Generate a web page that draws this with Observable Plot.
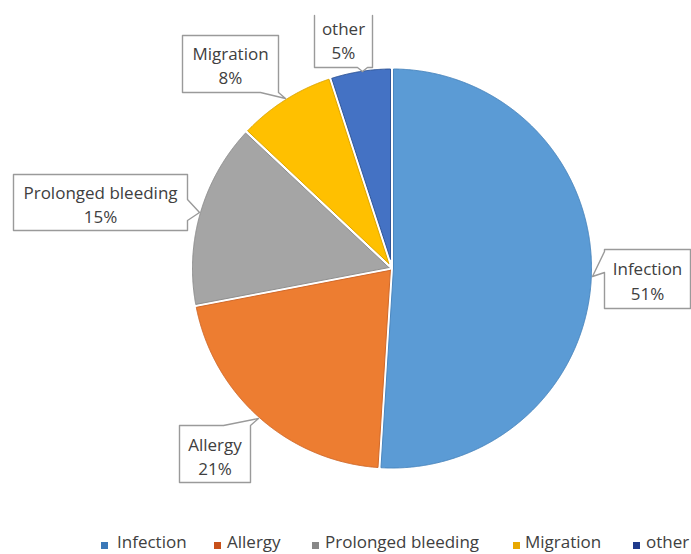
<!DOCTYPE html>
<html>
<head>
<meta charset="utf-8">
<script src="https://cdn.jsdelivr.net/npm/d3@7"></script>
<script src="https://cdn.jsdelivr.net/npm/@observablehq/plot@0.6"></script>
<style>
  html, body { margin: 0; padding: 0; background: #fff; overflow: hidden; }
  #chart { width: 691px; height: 554px; position: relative; }
  #chart svg { display: block; }
  .legend { position: relative; width: 691px; height: 24px; overflow: hidden;
            font-family: "Open Sans", sans-serif; font-size: 17px; color: #404040; }
  .legend .sw { position: absolute; top: 12px; width: 7px; height: 7px; }
  .legend .lb { position: absolute; top: 0px; line-height: 23px; white-space: nowrap; }
</style>
</head>
<body>
<div id="chart"></div>
<script>
// ---- data ----
const names = ["Infection", "Allergy", "Prolonged bleeding", "Migration", "other"];
const values = [51, 21, 15, 8, 5];
const labels = ["51%", "21%", "15%", "8%", "5%"];

// ---- styles ----
const sliceColors = ["#5B9BD5", "#ED7D31", "#A5A5A5", "#FFC000", "#4472C4"];
const edgeColors = ["#4A86BE", "#D0692A", "#8E8E8E", "#DDA600", "#2F5597"];
const legendColors = ["#3A78B8", "#C8501A", "#888888", "#E8A800", "#1F3A8C"];

// ---- layout (pixels) ----
const W = 691, H = 530;
const pieCenter = [391.5, 268], pieR = 199.5, gap = 1.5;
// callout boxes: [x1,y1,x2,y2], pointer side, pointer base, tip, text centre
const callouts = [
  {box: [604, 249, 690, 308], side: "left",   base: [251, 272], tip: [592, 276], text: [647, 279]},
  {box: [179, 425, 250, 482], side: "top",    base: [223, 250], tip: [258, 418], text: [214.5, 454.5]},
  {box: [13, 174, 187, 230],  side: "right",  base: [199, 220], tip: [199, 212], text: [100, 202.5]},
  {box: [182, 35, 278, 92],   side: "bottom", base: [260, 278], tip: [285, 98],  text: [230, 63.5]},
  {box: [314, 15, 372, 67],   side: "bottom", base: [357, 367], tip: [362, 71],  text: [343, 38.5], openTop: true}
];
const legendSwatchX = [101, 214, 312, 513, 633];
const legendTextX = [117, 227, 325, 525, 646];

// ---- pie geometry from data ----
const data = names.map((n, i) => ({name: n, value: values[i], label: labels[i]}));
const arcs = d3.pie().sort(null).value(d => d.value)(data);
const [cx, cy] = pieCenter;
const pt = (a, r) => ({x: cx + r * Math.sin(a), y: cy - r * Math.cos(a)});

const sliceMarks = arcs.map((a, i) => {
  const h = (a.endAngle - a.startAngle) / 2;
  const mid = (a.startAngle + a.endAngle) / 2;
  const apex = pt(mid, gap / Math.sin(Math.min(h, Math.PI / 2)));
  const a0 = a.startAngle + gap / pieR, a1 = a.endAngle - gap / pieR;
  const n = Math.max(8, Math.ceil((a1 - a0) / (Math.PI / 720)));
  const pts = [apex];
  for (let k = 0; k <= n; k++) pts.push(pt(a0 + (a1 - a0) * k / n, pieR));
  pts.push(apex);
  return Plot.line(pts, {x: "x", y: "y", fill: sliceColors[i], stroke: edgeColors[i],
    strokeWidth: 1, curve: "linear-closed"});
});

// ---- callout outlines ----
function calloutPoints(c) {
  const [x1, y1, x2, y2] = c.box, [tx, ty] = c.tip, [b0, b1] = c.base;
  const P = (x, y) => ({x, y});
  const top = c.side === "top" ? [P(b0, y1), P(tx, ty), P(b1, y1)] : [];
  const right = c.side === "right" ? [P(x2, b0), P(tx, ty), P(x2, b1)] : [];
  const bottom = c.side === "bottom" ? [P(b1, y2), P(tx, ty), P(b0, y2)] : [];
  const left = c.side === "left" ? [P(x1, b1), P(tx, ty), P(x1, b0)] : [];
  if (c.openTop) {
    return [P(x2, y1), ...right, P(x2, y2), ...bottom, P(x1, y2), ...left, P(x1, y1)];
  }
  return [P(x1, y1), ...top, P(x2, y1), ...right, P(x2, y2), ...bottom, P(x1, y2), ...left, P(x1, y1)];
}
const calloutMarks = callouts.map(c =>
  Plot.line(calloutPoints(c), {x: "x", y: "y", fill: "white", stroke: "#9a9a9a", strokeWidth: 1.4, curve: "linear"})
);

const textData = data.map((d, i) => ({text: d.name + "\n" + d.label, x: callouts[i].text[0], y: callouts[i].text[1]}));

const plot = Plot.plot({
  width: W, height: H,
  marginTop: 0, marginRight: 0, marginBottom: 0, marginLeft: 0,
  x: {domain: [0, W], range: [0, W], axis: null},
  y: {domain: [0, H], range: [0, H], axis: null},
  style: {background: "white", fontFamily: "Open Sans, sans-serif"},
  marks: [
    ...sliceMarks,
    ...calloutMarks,
    Plot.text(textData, {x: "x", y: "y", text: "text", fontSize: 17, lineHeight: 1.44,
      lineAnchor: "middle", textAnchor: "middle", fill: "#404040"})
  ]
});

const chart = document.getElementById("chart");
chart.appendChild(plot);

// ---- legend ----
const legend = document.createElement("div");
legend.className = "legend";
names.forEach((n, i) => {
  const sw = document.createElement("span");
  sw.className = "sw";
  sw.style.left = legendSwatchX[i] + "px";
  sw.style.background = legendColors[i];
  const lb = document.createElement("span");
  lb.className = "lb";
  lb.style.left = legendTextX[i] + "px";
  lb.textContent = n;
  legend.appendChild(sw);
  legend.appendChild(lb);
});
chart.appendChild(legend);
</script>
</body>
</html>
